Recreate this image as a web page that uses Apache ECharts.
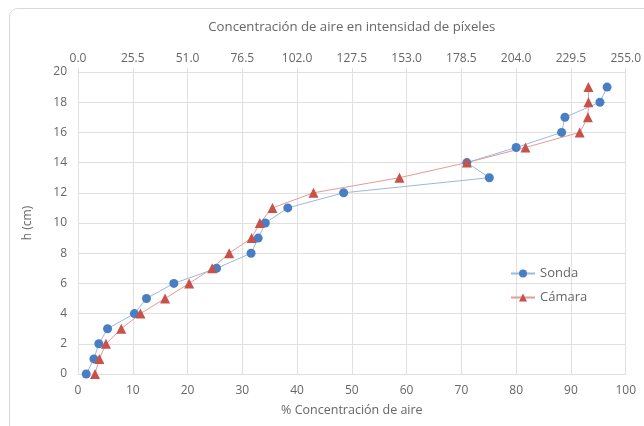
<!DOCTYPE html>
<html><head><meta charset="utf-8">
<script src="https://cdn.jsdelivr.net/npm/echarts@6/dist/echarts.min.js"></script>
<style>html,body{margin:0;padding:0;background:#fff}#c{width:644px;height:426px}</style>
</head><body><div id="c"></div>
<script>
const heights = [0,1,2,3,4,5,6,7,8,9,10,11,12,13,14,15,16,17,18,19];
const sonda = [1.5,2.9,3.8,5.4,10.3,12.5,17.5,25.3,31.6,32.9,34.2,38.3,48.5,75.1,71.0,80.0,88.3,88.9,95.3,96.6];
const camara = [3.1,3.9,5.1,7.9,11.4,15.9,20.3,24.5,27.6,31.7,33.2,35.5,43.0,58.7,71.0,81.7,91.6,93.1,93.2,93.2];
const seriesNames = ['Sonda','Cámara'];
const bottomTitle = '% Concentración de aire';
const topTitle = 'Concentración de aire en intensidad de píxeles';
const yTitle = 'h (cm)';

const font = '"Open Sans", Lato, sans-serif';
const txt = '#666666';
const gridCol = '#e0e0e0';
const chart = echarts.init(document.getElementById('c'));
chart.setOption({
  animation:false,
  graphic:[{type:'rect',shape:{x:9.5,y:8.5,width:660,height:440,r:8},style:{fill:'none',stroke:'#d9d9d9',lineWidth:1},silent:true}],
  grid:{left:78,right:15,top:72,bottom:52,containLabel:false},
  legend:{orient:'vertical',left:505,top:262,itemGap:11,itemWidth:24,itemHeight:10,
    textStyle:{color:txt,fontFamily:font,fontSize:13},data:seriesNames},
  xAxis:[{type:'value',position:'bottom',min:0,max:100,interval:10,
      name:bottomTitle,nameLocation:'middle',nameGap:30,
      nameTextStyle:{color:txt,fontFamily:font,fontSize:12.5},
      axisLine:{show:true,lineStyle:{color:gridCol}},axisTick:{show:false},
      axisLabel:{color:txt,fontFamily:font,fontSize:12,margin:11},
      splitLine:{show:true,lineStyle:{color:gridCol,width:1}}},
    {type:'value',position:'top',min:0,max:255,interval:25.5,
      name:topTitle,nameLocation:'middle',nameGap:38,
      nameTextStyle:{color:txt,fontFamily:font,fontSize:13.2},
      axisLine:{show:true,lineStyle:{color:gridCol}},axisTick:{show:true,length:4,inside:false,lineStyle:{color:gridCol}},
      axisLabel:{color:txt,fontFamily:font,fontSize:12,margin:7,formatter:v=>v.toFixed(1)},
      splitLine:{show:false}}],
  yAxis:{type:'value',min:0,max:20,interval:2,
    name:yTitle,nameLocation:'middle',nameGap:44,nameRotate:90,
    nameTextStyle:{color:txt,fontFamily:font,fontSize:12},
    axisLine:{show:true,lineStyle:{color:gridCol}},axisTick:{show:false},
    axisLabel:{color:txt,fontFamily:font,fontSize:12,margin:11},
    splitLine:{show:true,lineStyle:{color:gridCol,width:1}}},
  series:[
    {name:seriesNames[0],type:'line',xAxisIndex:0,data:heights.map((h,i)=>[sonda[i],h]),
      symbol:'circle',symbolSize:9,itemStyle:{color:'#4a7ec4'},
      lineStyle:{color:'#9bb8e0',width:1}},
    {name:seriesNames[1],type:'line',xAxisIndex:0,data:heights.map((h,i)=>[camara[i],h]),
      symbol:'triangle',symbolSize:10,itemStyle:{color:'#c8514a'},
      lineStyle:{color:'#e59a96',width:1}}
  ]
});
</script></body></html>
